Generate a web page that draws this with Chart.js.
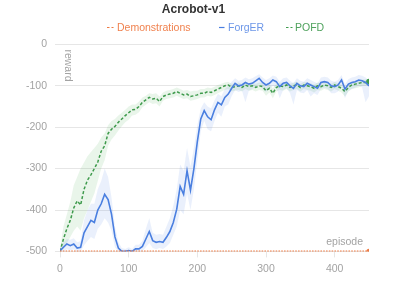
<!DOCTYPE html>
<html>
<head>
<meta charset="utf-8">
<script src="https://cdn.jsdelivr.net/npm/chart.js@4.4.0/dist/chart.umd.min.js"></script>
<style>
html,body{margin:0;padding:0;background:#fff;}
#wrap{width:399px;height:282px;position:relative;}
</style>
</head>
<body>
<div id="wrap"><canvas id="c" width="399" height="282"></canvas></div>
<script>
const titleText = 'Acrobot-v1';
const seriesNames = ['Demonstrations', 'ForgER', 'POFD'];
const xTickLabels = [0, 100, 200, 300, 400];
const yTickLabels = [0, -100, -200, -300, -400, -500];

const episodes = [0,5,10,15,20,25,30,35,40,45,50,55,60,65,70,75,80,85,90,95,100,105,110,115,120,125,130,135,140,145,150,155,160,165,170,175,180,185,190,195,200,205,210,215,220,225,230,235,240,245,250,255,260,265,270,275,280,285,290,295,300,305,310,315,320,325,330,335,340,345,350,355,360,365,370,375,380,385,390,395,400,405,410,415,420,425,430,435,440,445,450];

const demoEpisodes = [0, 450];
const demoReward = [-500, -500];

const forgerReward = [-498,-490,-482,-486,-482,-492,-490,-455,-440,-425,
  -430,-400,-385,-362,-375,-410,-465,-492,-500,-500,
  -498,-500,-494,-494,-488,-470,-452,-474,-478,-476,
  -478,-466,-452,-430,-398,-343,-362,-305,-352,-300,
  -235,-180,-160,-175,-182,-158,-140,-146,-128,-120,
  -106,-94,-100,-98,-92,-96,-94,-88,-82,-92,
  -98,-94,-86,-90,-102,-94,-92,-100,-106,-94,
  -100,-102,-94,-98,-102,-106,-92,-90,-92,-100,
  -102,-98,-86,-108,-96,-92,-90,-86,-88,-92,
  -100];
const forgerUpper = [-490,-478,-470,-472,-468,-478,-475,-425,-400,-385,
  -385,-350,-330,-300,-320,-370,-440,-478,-492,-494,
  -490,-494,-484,-484,-475,-445,-420,-455,-460,-458,
  -460,-440,-420,-390,-350,-290,-305,-250,-295,-250,
  -195,-155,-140,-150,-155,-135,-120,-125,-108,-100,
  -90,-82,-88,-86,-80,-84,-82,-77,-72,-80,
  -86,-82,-75,-78,-90,-82,-80,-88,-94,-82,
  -88,-90,-82,-86,-90,-94,-80,-78,-80,-88,
  -90,-86,-74,-96,-84,-80,-78,-74,-76,-80,
  -88];
const forgerLower = [-500,-500,-495,-498,-495,-500,-500,-485,-475,-465,
  -470,-445,-435,-420,-430,-450,-490,-500,-500,-500,
  -500,-500,-500,-500,-500,-490,-480,-492,-495,-492,
  -494,-488,-480,-460,-440,-400,-410,-360,-400,-350,
  -280,-210,-185,-205,-210,-185,-165,-175,-150,-145,
  -125,-110,-115,-112,-140,-112,-108,-102,-96,-108,
  -115,-108,-100,-104,-130,-110,-106,-118,-145,-110,
  -116,-118,-110,-126,-118,-122,-108,-104,-108,-118,
  -118,-114,-100,-130,-112,-108,-104,-100,-104,-140,
  -125];

const pofdReward = [-500,-470,-445,-425,-395,-378,-388,-350,-328,-315,
  -300,-284,-258,-245,-215,-205,-198,-188,-180,-172,
  -165,-158,-157,-150,-140,-134,-128,-132,-130,-138,
  -126,-122,-120,-118,-114,-118,-122,-120,-126,-124,
  -122,-118,-118,-114,-116,-112,-108,-104,-100,-98,
  -104,-102,-100,-104,-98,-102,-100,-104,-100,-102,
  -112,-106,-118,-104,-100,-102,-98,-104,-100,-98,
  -104,-98,-100,-102,-106,-100,-102,-98,-100,-104,
  -98,-102,-106,-114,-104,-98,-96,-94,-92,-92,
  -90];
const pofdUpper = [-495,-440,-410,-380,-340,-320,-300,-285,-270,-260,
  -250,-240,-225,-215,-195,-185,-180,-172,-165,-158,
  -150,-145,-145,-138,-128,-124,-118,-120,-118,-126,
  -116,-112,-110,-108,-104,-108,-112,-110,-114,-112,
  -112,-108,-108,-104,-106,-102,-98,-95,-92,-90,
  -95,-94,-92,-95,-90,-94,-92,-95,-92,-94,
  -102,-97,-106,-95,-92,-94,-90,-95,-92,-90,
  -95,-90,-92,-94,-97,-92,-94,-90,-92,-95,
  -90,-94,-97,-104,-95,-90,-88,-86,-85,-85,
  -84];
const pofdLower = [-500,-495,-480,-465,-450,-440,-450,-420,-400,-380,
  -360,-330,-300,-280,-245,-230,-220,-208,-198,-188,
  -182,-172,-170,-164,-152,-146,-140,-144,-142,-150,
  -136,-132,-130,-128,-124,-128,-132,-130,-136,-134,
  -132,-128,-128,-124,-126,-122,-118,-114,-110,-108,
  -114,-112,-110,-114,-108,-112,-110,-114,-110,-112,
  -124,-116,-130,-114,-110,-112,-108,-114,-110,-108,
  -114,-108,-110,-112,-116,-110,-112,-108,-110,-114,
  -108,-112,-116,-126,-114,-108,-106,-104,-100,-100,
  -97];

const COL = {
  demo: '#ee7a43', demoText: '#f0824f',
  forger: '#4a7fe0', forgerText: '#6d97e8', forgerBand: 'rgba(90,140,235,0.13)',
  pofd: '#3f9b4d', pofdText: '#4fa25d', pofdBand: 'rgba(70,170,80,0.12)',
  tick: '#a3a3a3', grid: '#e6e6e6'
};
const FONT = 'Arial, "Liberation Sans", sans-serif';

function pts(xs, ys){ return xs.map((x,i)=>({x:x, y:ys[i]})); }
function endDot(n, r){ const a = new Array(n).fill(0); a[n-1] = r; return a; }

const legendText = [COL.demoText, COL.forgerText, COL.pofdText];
const legendDash = [[2.5,2], [], [2.5,2]];
const legendMarkerX = [107, 219, 286];
const legendMarkerW = [6.5, 5.5, 6.5];
const legendTextX = [117, 228, 295];
const legendY = 27;

const axisNames = {
  id: 'axisNames',
  afterDraw(chart){
    const {ctx, chartArea:a} = chart;
    ctx.save();
    ctx.fillStyle = COL.tick;
    ctx.font = '10.5px ' + FONT;
    ctx.textAlign = 'right';
    ctx.textBaseline = 'alphabetic';
    ctx.fillText('episode', a.right - 6, a.bottom - 6);
    ctx.translate(a.left + 8, a.top + 5);
    ctx.rotate(Math.PI/2);
    ctx.textAlign = 'left';
    ctx.textBaseline = 'middle';
    ctx.fillText('reward', 0, 0);
    ctx.restore();

    // legend
    ctx.save();
    ctx.font = '10.5px ' + FONT;
    ctx.textBaseline = 'middle';
    ctx.textAlign = 'left';
    chart.data.datasets.slice(0,3).forEach((ds, i) => {
      ctx.strokeStyle = ds.borderColor;
      ctx.lineWidth = 1.2;
      ctx.setLineDash(legendDash[i]);
      ctx.beginPath();
      ctx.moveTo(legendMarkerX[i], legendY + 0.5);
      ctx.lineTo(legendMarkerX[i] + legendMarkerW[i], legendY + 0.5);
      ctx.stroke();
      ctx.setLineDash([]);
      ctx.fillStyle = legendText[i];
      ctx.fillText(ds.label, legendTextX[i], legendY + 1);
    });
    ctx.restore();
  }
};

new Chart(document.getElementById('c'), {
  type: 'line',
  data: {
    datasets: [
      { label: seriesNames[0], data: pts(demoEpisodes, demoReward), borderColor: COL.demo, backgroundColor: COL.demo,
        borderWidth: 2, borderDash: [1.6,1.2], pointRadius: endDot(2, 2.6), pointBorderWidth: 0, fill: false, tension: 0 },
      { label: seriesNames[1], data: pts(episodes, forgerReward), borderColor: COL.forger, backgroundColor: COL.forger,
        borderWidth: 1.6, pointRadius: 0, fill: false, tension: 0 },
      { label: seriesNames[2], data: pts(episodes, pofdReward), borderColor: COL.pofd, backgroundColor: COL.pofd,
        borderWidth: 1.5, borderDash: [3,2], pointRadius: endDot(episodes.length, 2.8), pointBorderWidth: 0, fill: false, tension: 0 },
      { label: 'fu', data: pts(episodes, forgerUpper), borderWidth: 0, borderColor: 'rgba(0,0,0,0)', pointRadius: 0,
        backgroundColor: COL.forgerBand, fill: '+1', tension: 0 },
      { label: 'fl', data: pts(episodes, forgerLower), borderWidth: 0, borderColor: 'rgba(0,0,0,0)', pointRadius: 0, fill: false, tension: 0 },
      { label: 'pu', data: pts(episodes, pofdUpper), borderWidth: 0, borderColor: 'rgba(0,0,0,0)', pointRadius: 0,
        backgroundColor: COL.pofdBand, fill: '+1', tension: 0 },
      { label: 'pl', data: pts(episodes, pofdLower), borderWidth: 0, borderColor: 'rgba(0,0,0,0)', pointRadius: 0, fill: false, tension: 0 }
    ]
  },
  options: {
    responsive: false,
    animation: false,
    devicePixelRatio: 1,
    layout: { padding: { left: 18, right: 30, top: 0, bottom: 2 } },
    plugins: {
      tooltip: { enabled: false },
      title: { display: true, text: titleText, color: '#333', font: { size: 12, weight: 'bold', family: FONT },
        padding: { top: 2, bottom: 28 } },
      legend: { display: false }
    },
    scales: {
      x: {
        type: 'linear', min: 0, max: 450,
        ticks: { stepSize: 100, includeBounds: false, color: COL.tick, padding: 5, font: { size: 10.5, family: FONT } },
        grid: { display: true, drawOnChartArea: false, drawTicks: true, tickLength: 6, color: COL.grid },
        border: { display: false }
      },
      y: {
        min: -500, max: 0,
        ticks: { stepSize: 100, color: COL.tick, padding: 8, font: { size: 10.5, family: FONT } },
        grid: { color: COL.grid, tickLength: 5, lineWidth: 1 },
        border: { display: false }
      }
    }
  },
  plugins: [axisNames]
});
</script>
</body>
</html>
